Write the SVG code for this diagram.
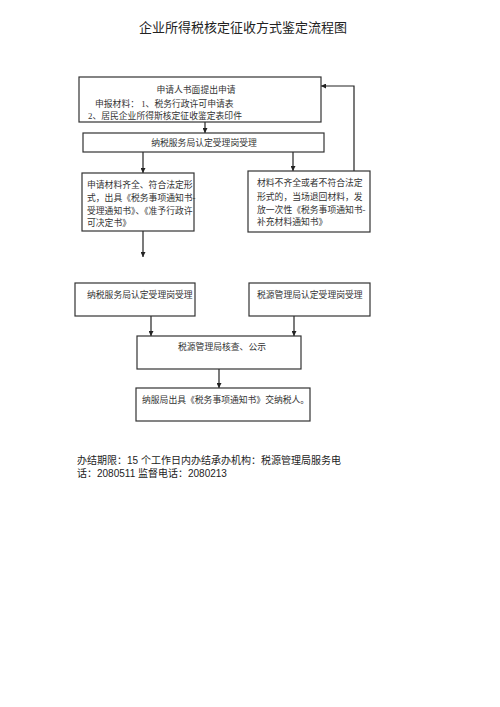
<svg xmlns="http://www.w3.org/2000/svg" width="500" height="707" viewBox="0 0 500 707">
<style>
.box{fill:#fff;stroke:#333;stroke-width:1.2}
.t{font-family:"Liberation Serif","Noto Sans CJK SC",serif;fill:#333;font-size:8.8px}
.c{text-anchor:middle}
.ln{stroke:#222;stroke-width:1.2;fill:none}
.title{font-family:"Liberation Serif","Noto Sans CJK SC",serif;fill:#222;font-size:13px;text-anchor:middle}
.f{font-family:"Liberation Sans","Noto Sans CJK SC",sans-serif;fill:#222;font-size:10px}
</style>
<defs>
<marker id="ah" viewBox="0 0 10 10" refX="10" refY="5" markerWidth="5" markerHeight="5" orient="auto" markerUnits="userSpaceOnUse">
<path d="M0,0 L10,5 L0,10 z" fill="#222"/>
</marker>
</defs>
<rect width="500" height="707" fill="#fff"/>
<text class="title" x="243" y="32">企业所得税核定征收方式鉴定流程图</text>

<g id="connectors">
<line class="ln" x1="205" y1="122" x2="205" y2="133" marker-end="url(#ah)"/>
<line class="ln" x1="143" y1="152" x2="143" y2="173" marker-end="url(#ah)"/>
<line class="ln" x1="293" y1="152" x2="293" y2="171" marker-end="url(#ah)"/>
<polyline class="ln" points="354,171 354,86 321,86" marker-end="url(#ah)"/>
<line class="ln" x1="143" y1="231" x2="143" y2="257" marker-end="url(#ah)"/>
<line class="ln" x1="151" y1="316" x2="151" y2="336" marker-end="url(#ah)"/>
<line class="ln" x1="294" y1="316" x2="294" y2="336" marker-end="url(#ah)"/>
<line class="ln" x1="219" y1="369" x2="219" y2="388" marker-end="url(#ah)"/>
</g>

<g id="n1">
<rect class="box" x="79" y="77" width="242" height="45"/>
<text class="t c" x="196" y="93">申请人书面提出申请</text>
<text class="t" x="95" y="107">申报材料：  1、税务行政许可申请表</text>
<text class="t" x="88" y="119">2、居民企业所得斯核定征收鉴定表印件</text>
</g>
<g id="n2">
<rect class="box" x="83" y="133" width="241" height="19"/>
<text class="t c" x="204" y="146">纳税服务局认定受理岗受理</text>
</g>
<g id="n3">
<rect class="box" x="82" y="173" width="112" height="58"/>
<text class="t" x="87" y="188">申请材料齐全、符合法定形</text>
<text class="t" x="87" y="201">式，出具《税务事项通知书-</text>
<text class="t" x="87" y="214">受理通知书》、《准予行政许</text>
<text class="t" x="87" y="226">可决定书》</text>
</g>
<g id="n4">
<rect class="box" x="248" y="171" width="122" height="61"/>
<text class="t" x="257" y="186">材料不齐全或者不符合法定</text>
<text class="t" x="257" y="200">形式的，当场退回材料，发</text>
<text class="t" x="257" y="213">放一次性《税务事项通知书-</text>
<text class="t" x="257" y="225">补充材料通知书》</text>
</g>
<g id="n5">
<rect class="box" x="75" y="283" width="120" height="33"/>
<text class="t" x="87" y="298">纳税服务局认定受理岗受理</text>
</g>
<g id="n6">
<rect class="box" x="249" y="283" width="121" height="33"/>
<text class="t" x="257" y="298">税源管理局认定受理岗受理</text>
</g>
<g id="n7">
<rect class="box" x="137" y="336" width="164" height="33"/>
<text class="t" x="178" y="350">税源管理局核查、公示</text>
</g>
<g id="n8">
<rect class="box" x="136" y="388" width="174" height="33"/>
<text class="t" x="142" y="403">纳服局出具《税务事项通知书》交纳税人。</text>
</g>

<text class="f" x="77" y="464">办结期限：15 个工作日内办结承办机构：税源管理局服务电</text>
<text class="f" x="77" y="477">话：2080511 监督电话：2080213</text>
</svg>
